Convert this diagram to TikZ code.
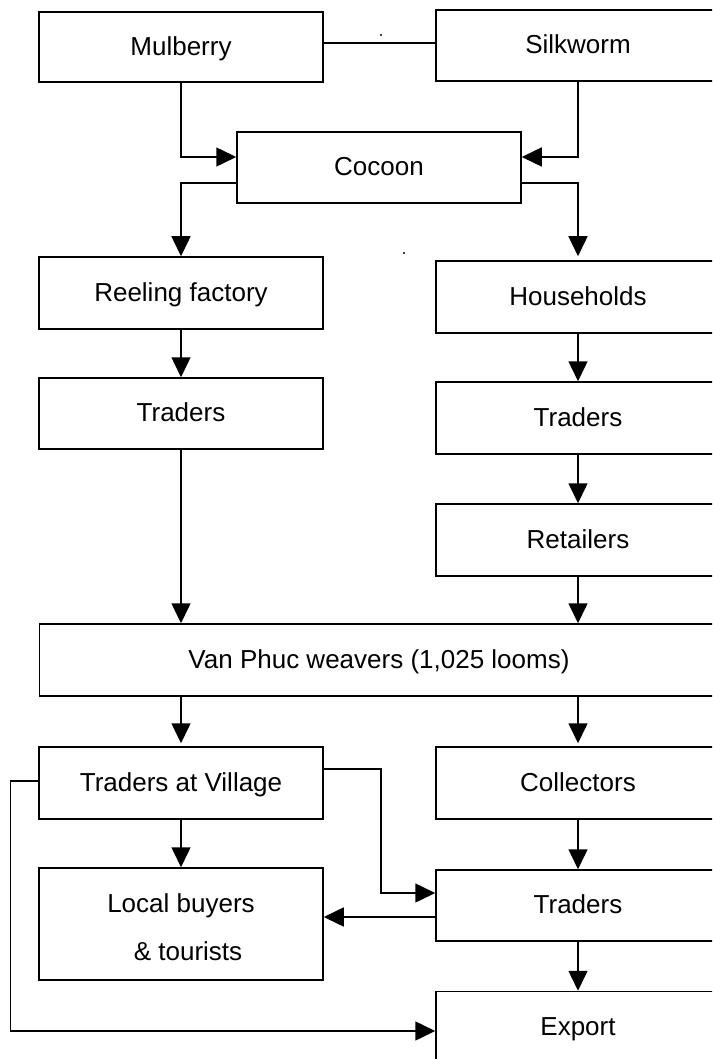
\documentclass[tikz,border=0pt]{standalone}
\usepackage{fontspec}
\setmainfont{Liberation Sans}
\usetikzlibrary{arrows.meta}
\begin{document}
\begin{tikzpicture}[x=1pt,y=-1pt,
  txt/.style={inner sep=0pt, text height=16.6pt, text depth=0pt,
    font=\fontsize{26}{31}\selectfont},
  box/.style={txt, draw, line width=1.5pt, minimum width=284pt, minimum height=71pt},
  flow/.style={line width=1.5pt, -{Triangle[length=20pt,width=19pt]}},
  link/.style={line width=1.5pt}]
\useasboundingbox (0,0) rectangle (712,1059);
\begin{scope}
\clip (0,0) rectangle (712,1059);

% sources
\node[box, minimum height=70pt] (mul)  at (181,47)   {Mulberry};
\node[box] (silk) at (578,45.5) {Silkworm};
\node[box] (coc)  at (379,167.5) {Cocoon};

% processing branches
\node[box, minimum height=72pt] (reel)  at (181,293) {Reeling factory};
\node[box, minimum height=72pt] (house) at (578,297) {Households};
\node[box] (trl) at (181,413.5) {Traders};
\node[box, minimum height=72pt] (trr) at (578,418) {Traders};
\node[box, minimum height=72pt] (ret) at (578,540) {Retailers};

% weavers
\node[box, minimum width=679pt, minimum height=72pt] (vp) at (379,660)
  {Van Phuc weavers (1,025 looms)};

% distribution
\node[box, minimum height=72pt] (tav)  at (181,783) {Traders at Village};
\node[box, minimum height=72pt] (coll) at (578,783) {Collectors};
\node[box, minimum height=112pt] (local) at (181,924) {};
\node[txt] (loc1) at (181,903.7) {Local buyers};
\node[txt] (loc2) at (188,951.7) {\& tourists};
\node[box] (tbr) at (578,905.5) {Traders};
\node[box] (exp) at (578,1027) {Export};

% stray marks
\fill (381,35) circle (1.2pt);
\fill (404,253) circle (1.2pt);

% connectors
\draw[link] ([yshift=4pt]mul.east) coordinate (m1) -- (m1 -| silk.west);
\draw[flow] (mul.south) |- ([yshift=10.5pt]coc.west);
\draw[flow] (silk.south) |- ([yshift=10.5pt]coc.east);
\draw[flow] ([yshift=-15.5pt]coc.west) -| (reel.north);
\draw[flow] ([yshift=-15.5pt]coc.east) -| ([yshift=4pt]house.north);
\draw[flow] (reel.south) -- (trl.north);
\draw[flow] (house.south) -- (trr.north);
\draw[flow] (trr.south) -- (ret.north);
\draw[flow] (trl.south) -- (trl.south |- vp.north);
\draw[flow] (ret.south) -- (ret.south |- vp.north);
\draw[flow] (tav.north |- vp.south) -- ([yshift=3pt]tav.north);
\draw[flow] (coll.north |- vp.south) -- ([yshift=3pt]coll.north);
\draw[flow] (tav.south) -- (local.north);
\draw[flow] (coll.south) -- (tbr.north);
\draw[flow] (tbr.south) -- (exp.north);
\draw[flow] ([yshift=14pt]tav.east) -- ++(57,0) |- ([yshift=12.5pt]tbr.west);
\draw[flow] ([yshift=-11.5pt]tbr.west) coordinate (t1) -- (t1 -| local.east);
\draw[flow] ([yshift=2pt]tav.west) -- ++(-28,0) |- ([yshift=-4pt]exp.west);
\end{scope}
\end{tikzpicture}
\end{document}
